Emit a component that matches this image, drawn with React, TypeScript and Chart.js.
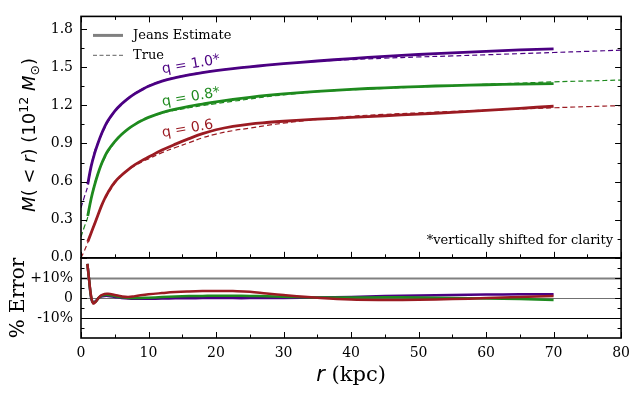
import React, { useEffect, useRef } from "react";
import { Chart, registerables } from "chart.js";

Chart.register(...registerables);

// ---------------- data ----------------
const rJeans = [1, 1.5, 2, 2.5, 3, 3.5, 4, 5, 6, 7, 8, 9, 10, 12, 14, 16, 18, 20, 22.5, 25, 27.5, 30, 35, 40, 45, 50, 55, 60, 65, 70];
const jeansQ10 = [0.58, 0.72, 0.82, 0.9, 0.97, 1.03, 1.08, 1.155, 1.21, 1.255, 1.292, 1.323, 1.35, 1.39, 1.418, 1.44, 1.458, 1.473, 1.489, 1.503, 1.516, 1.528, 1.549, 1.568, 1.585, 1.6, 1.613, 1.625, 1.636, 1.645];
const jeansQ08 = [0.33, 0.465, 0.57, 0.66, 0.735, 0.795, 0.845, 0.915, 0.97, 1.015, 1.05, 1.08, 1.105, 1.143, 1.17, 1.192, 1.21, 1.227, 1.246, 1.263, 1.278, 1.29, 1.31, 1.326, 1.338, 1.348, 1.356, 1.362, 1.367, 1.371];
const jeansQ06 = [0.127, 0.195, 0.265, 0.335, 0.405, 0.465, 0.515, 0.595, 0.65, 0.695, 0.733, 0.765, 0.793, 0.848, 0.895, 0.938, 0.977, 1.008, 1.035, 1.053, 1.065, 1.075, 1.091, 1.105, 1.118, 1.131, 1.145, 1.161, 1.177, 1.193];

const rTrue = [0, 0.5, 1, 1.5, 2, 2.5, 3, 3.5, 4, 5, 6, 7, 8, 9, 10, 12, 14, 16, 18, 20, 22.5, 25, 27.5, 30, 35, 40, 45, 50, 55, 60, 65, 70, 75, 80];
const trueQ10 = [0.394, 0.48, 0.565, 0.72, 0.835, 0.903, 0.963, 1.02, 1.069, 1.149, 1.21, 1.259, 1.297, 1.328, 1.355, 1.394, 1.421, 1.443, 1.459, 1.474, 1.49, 1.504, 1.516, 1.528, 1.546, 1.56, 1.571, 1.581, 1.589, 1.598, 1.607, 1.616, 1.625, 1.634];
const trueQ08 = [0.165, 0.245, 0.32, 0.463, 0.583, 0.663, 0.728, 0.783, 0.833, 0.907, 0.967, 1.015, 1.051, 1.08, 1.104, 1.138, 1.162, 1.181, 1.198, 1.214, 1.232, 1.25, 1.268, 1.282, 1.307, 1.323, 1.334, 1.345, 1.356, 1.366, 1.375, 1.385, 1.392, 1.399];
const trueQ06 = [0, 0.055, 0.12, 0.193, 0.272, 0.336, 0.4, 0.456, 0.504, 0.586, 0.645, 0.692, 0.726, 0.755, 0.779, 0.828, 0.868, 0.906, 0.945, 0.974, 1.001, 1.021, 1.042, 1.06, 1.09, 1.114, 1.129, 1.141, 1.152, 1.162, 1.171, 1.181, 1.19, 1.198];

const rErr = [0.95, 1.2, 1.5, 1.8, 2.2, 2.6, 3, 3.5, 4, 5, 6, 7, 8, 10, 12, 14, 16, 18, 20, 22.5, 25, 27.5, 30, 35, 40, 45, 50, 55, 60, 65, 70];
const errQ06 = [17, 9, 1, -2.7, -1.8, 0, 1.3, 2, 2.1, 1.5, 0.8, 0.5, 0.9, 1.8, 2.4, 2.9, 3.2, 3.4, 3.5, 3.4, 3.1, 2.2, 1.4, 0.1, -0.8, -1.0, -0.9, -0.6, -0.1, 0.5, 1.0];
const errQ08 = [17, 9, 0.5, -2.5, -1.8, 0, 1, 1.5, 1.5, 0.9, 0.3, 0, -0.1, 0.1, 0.4, 0.7, 0.9, 1.0, 1.1, 1.1, 1.0, 0.8, 0.6, 0.2, 0.2, 0.3, 0.2, 0, -0.3, -0.6, -1.0];
const errQ10 = [17, 9, 0, -2.2, -1.5, 0, 0.7, 1, 1, 0.5, 0, -0.3, -0.4, -0.4, -0.3, -0.2, -0.2, -0.1, -0.1, -0.1, -0.1, 0, 0, 0.2, 0.5, 0.9, 1.2, 1.5, 1.7, 1.8, 1.8];

const xTicks = [0, 10, 20, 30, 40, 50, 60, 70, 80];
const xMinorTicks = [5, 15, 25, 35, 45, 55, 65, 75];
const massTicks = [0, 0.3, 0.6, 0.9, 1.2, 1.5, 1.8];
const massMinorTicks = [0.15, 0.45, 0.75, 1.05, 1.35, 1.65];
const errTicks = [-10, 0, 10];
const errMinorTicks = [-15, -5, 5, 15];
const errRefLines = [10, 0, -10];

const seriesNames = ["q = 1.0*", "q = 0.8*", "q = 0.6"];
const legendLabels = ["Jeans Estimate", "True"];
const footNote = "*vertically shifted for clarity";

// ---------------- style ----------------
const C10 = "#4b0082";
const C08 = "#1e8a1e";
const C06 = "#9b1b22";
const SERIF = "'DejaVu Serif', serif";
const SANS = "'DejaVu Sans', sans-serif";

const pts = (xs: number[], ys: number[]) => xs.map((x, i) => ({ x, y: ys[i] }));

type Piece = { t: string; font: string; dy?: number };

function drawPieces(ctx: CanvasRenderingContext2D, pieces: Piece[], cx: number, baseY: number) {
  let total = 0;
  const widths = pieces.map((p) => {
    ctx.font = p.font;
    const w = ctx.measureText(p.t).width;
    total += w;
    return w;
  });
  let x = cx - total / 2;
  pieces.forEach((p, i) => {
    ctx.font = p.font;
    ctx.fillText(p.t, x, baseY + (p.dy || 0));
    x += widths[i];
  });
}

const decorPlugin = {
  id: "decor",
  beforeDatasetsDraw(chart: any) {
    const { ctx } = chart;
    const xs = chart.scales.x;
    const yb = chart.scales.yBot;
    const styles = [
      { c: "#808080", w: 2 },
      { c: "#707070", w: 1 },
      { c: "#000000", w: 1.2 },
    ];
    ctx.save();
    errRefLines.forEach((v, i) => {
      const y = Math.round(yb.getPixelForValue(v)) + 0.5;
      ctx.strokeStyle = styles[i].c;
      ctx.lineWidth = styles[i].w;
      ctx.beginPath();
      ctx.moveTo(xs.left, y);
      ctx.lineTo(xs.right, y);
      ctx.stroke();
    });
    ctx.restore();
  },
  afterDatasetsDraw(chart: any) {
    const { ctx } = chart;
    const xs = chart.scales.x;
    const yt = chart.scales.yTop;
    const yb = chart.scales.yBot;
    const L = xs.left, R = xs.right;
    ctx.save();
    // ticks
    ctx.strokeStyle = "#000";
    ctx.lineWidth = 1;
    ctx.beginPath();
    const tx = (vals: number[], y: number, dir: number, len: number) =>
      vals.forEach((v) => {
        const p = Math.round(xs.getPixelForValue(v)) + 0.5;
        ctx.moveTo(p, y);
        ctx.lineTo(p, y + dir * len);
      });
    const ty = (scale: any, vals: number[], len: number) =>
      vals.forEach((v) => {
        const p = Math.round(scale.getPixelForValue(v)) + 0.5;
        ctx.moveTo(L, p);
        ctx.lineTo(L + len, p);
        ctx.moveTo(R, p);
        ctx.lineTo(R - len, p);
      });
    tx(xTicks, yt.top, 1, 6);
    tx(xMinorTicks, yt.top, 1, 3.5);
    tx(xTicks, yt.bottom, -1, 6);
    tx(xMinorTicks, yt.bottom, -1, 3.5);
    tx(xTicks, yb.bottom, -1, 6);
    tx(xMinorTicks, yb.bottom, -1, 3.5);
    ty(yt, massTicks, 6);
    ty(yt, massMinorTicks, 3.5);
    ty(yb, errTicks, 6);
    ty(yb, errMinorTicks, 3.5);
    ctx.stroke();
    // frames
    ctx.lineWidth = 1.6;
    ctx.strokeStyle = "#000";
    ctx.strokeRect(L, yt.top, R - L, yt.bottom - yt.top);
    ctx.strokeRect(L, yb.top, R - L, yb.bottom - yb.top);

    // legend
    const lx = L + 12, ly1 = yt.top + 19, ly2 = yt.top + 39;
    ctx.strokeStyle = "#808080";
    ctx.lineWidth = 3;
    ctx.beginPath();
    ctx.moveTo(lx, ly1);
    ctx.lineTo(lx + 30, ly1);
    ctx.stroke();
    ctx.lineWidth = 1.2;
    ctx.setLineDash([4, 2.5]);
    ctx.beginPath();
    ctx.moveTo(lx, ly2);
    ctx.lineTo(lx + 30, ly2);
    ctx.stroke();
    ctx.setLineDash([]);
    ctx.fillStyle = "#000";
    ctx.font = `13px ${SERIF}`;
    ctx.textBaseline = "middle";
    ctx.textAlign = "left";
    ctx.fillText(legendLabels[0], lx + 40, ly1);
    ctx.fillText(legendLabels[1], lx + 40, ly2);

    // series annotations
    const annots = [
      { t: seriesNames[0], c: C10, r: 12.1, m: 1.452 },
      { t: seriesNames[1], c: C08, r: 12.1, m: 1.194 },
      { t: seriesNames[2], c: C06, r: 12.1, m: 0.95 },
    ];
    ctx.textBaseline = "alphabetic";
    annots.forEach((a) => {
      ctx.save();
      ctx.translate(xs.getPixelForValue(a.r), yt.getPixelForValue(a.m));
      ctx.rotate((-10 * Math.PI) / 180);
      ctx.fillStyle = a.c;
      ctx.font = `14px ${SANS}`;
      ctx.fillText(a.t, 0, 0);
      ctx.restore();
    });

    // footnote
    ctx.fillStyle = "#000";
    ctx.font = `13px ${SERIF}`;
    ctx.textAlign = "right";
    ctx.fillText(footNote, R - 8, yt.bottom - 14);
    ctx.textAlign = "left";

    // x title
    drawPieces(
      ctx,
      [
        { t: "r", font: `italic 21px ${SANS}` },
        { t: " (kpc)", font: `21px ${SERIF}` },
      ],
      (L + R) / 2,
      381
    );

    // y title top (rotated)
    ctx.save();
    ctx.translate(35, 135);
    ctx.rotate(-Math.PI / 2);
    drawPieces(
      ctx,
      [
        { t: "M", font: `italic 18px ${SANS}` },
        { t: "(", font: `18px ${SANS}` },
        { t: " < ", font: `18px ${SANS}` },
        { t: "r", font: `italic 18px ${SANS}` },
        { t: ") (10", font: `18px ${SANS}` },
        { t: "12", font: `12.5px ${SANS}`, dy: -7.5 },
        { t: " ", font: `18px ${SANS}` },
        { t: "M", font: `italic 18px ${SANS}` },
        { t: "\u2299", font: `12.5px ${SANS}`, dy: 4 },
        { t: ")", font: `18px ${SANS}` },
      ],
      0,
      0
    );
    ctx.restore();

    // y title bottom (rotated)
    ctx.save();
    ctx.translate(24, (yb.top + yb.bottom) / 2);
    ctx.rotate(-Math.PI / 2);
    drawPieces(ctx, [{ t: "% Error", font: `20px ${SERIF}` }], 0, 0);
    ctx.restore();

    ctx.restore();
  },
};

const tickFont = { family: "DejaVu Serif", size: 14 };

export default function App() {
  const ref = useRef<HTMLCanvasElement | null>(null);

  useEffect(() => {
    if (!ref.current) return;
    const line = (data: any, color: string, axis: string, width: number, dash?: number[]) => ({
      data,
      borderColor: color,
      backgroundColor: color,
      borderWidth: width,
      borderDash: dash || [],
      pointRadius: 0,
      fill: false,
      tension: 0.4,
      yAxisID: axis,
    });
    const chart = new Chart(ref.current, {
      type: "line",
      data: {
        datasets: [
          line(pts(rErr, errQ06), C06, "yBot", 2.5),
          line(pts(rErr, errQ08), C08, "yBot", 2.5),
          line(pts(rErr, errQ10), C10, "yBot", 2.5),
          line(pts(rJeans, jeansQ06), C06, "yTop", 2.8),
          line(pts(rJeans, jeansQ08), C08, "yTop", 2.8),
          line(pts(rJeans, jeansQ10), C10, "yTop", 2.8),
          line(pts(rTrue, trueQ06), C06, "yTop", 1.2, [5, 3]),
          line(pts(rTrue, trueQ08), C08, "yTop", 1.2, [5, 3]),
          line(pts(rTrue, trueQ10), C10, "yTop", 1.2, [5, 3]),
        ] as any,
      },
      options: {
        animation: false,
        responsive: false,
        layout: { padding: { top: 5, right: 13, left: 0, bottom: 0 } },
        plugins: { legend: { display: false }, tooltip: { enabled: false } },
        scales: {
          x: {
            type: "linear",
            min: 0,
            max: 80,
            afterBuildTicks: (s: any) => {
              s.ticks = xTicks.map((v) => ({ value: v }));
            },
            afterFit: (s: any) => {
              s.height = 59;
            },
            grid: { display: false, drawTicks: false },
            border: { display: false },
            ticks: {
              font: tickFont,
              color: "#000",
              padding: 7,
              autoSkip: false,
              maxRotation: 0,
              callback: (v: any) => String(v),
            },
          },
          yBot: {
            type: "linear",
            position: "left",
            stack: "panels",
            stackWeight: 83,
            min: -20,
            max: 20,
            afterBuildTicks: (s: any) => {
              s.ticks = errTicks.map((v) => ({ value: v }));
            },
            afterFit: (s: any) => {
              s.width = 81;
            },
            grid: { display: false, drawTicks: false },
            border: { display: false },
            ticks: {
              font: tickFont,
              color: "#000",
              padding: 8,
              autoSkip: false,
              callback: (v: any) => (v > 0 ? `+${v}%` : v < 0 ? `${v}%` : "0"),
            },
          },
          yTop: {
            type: "linear",
            position: "left",
            stack: "panels",
            stackWeight: 250,
            min: 0,
            max: 1.9,
            afterBuildTicks: (s: any) => {
              s.ticks = massTicks.map((v) => ({ value: v }));
            },
            afterFit: (s: any) => {
              s.width = 81;
            },
            grid: { display: false, drawTicks: false },
            border: { display: false },
            ticks: {
              font: tickFont,
              color: "#000",
              padding: 8,
              autoSkip: false,
              callback: (v: any) => Number(v).toFixed(1),
            },
          },
        } as any,
      },
      plugins: [decorPlugin],
    });
    return () => chart.destroy();
  }, []);

  return (
    <div style={{ position: "fixed", left: 0, top: 0, width: 637, height: 397, background: "#fff" }}>
      <canvas ref={ref} width={637} height={397} />
    </div>
  );
}
